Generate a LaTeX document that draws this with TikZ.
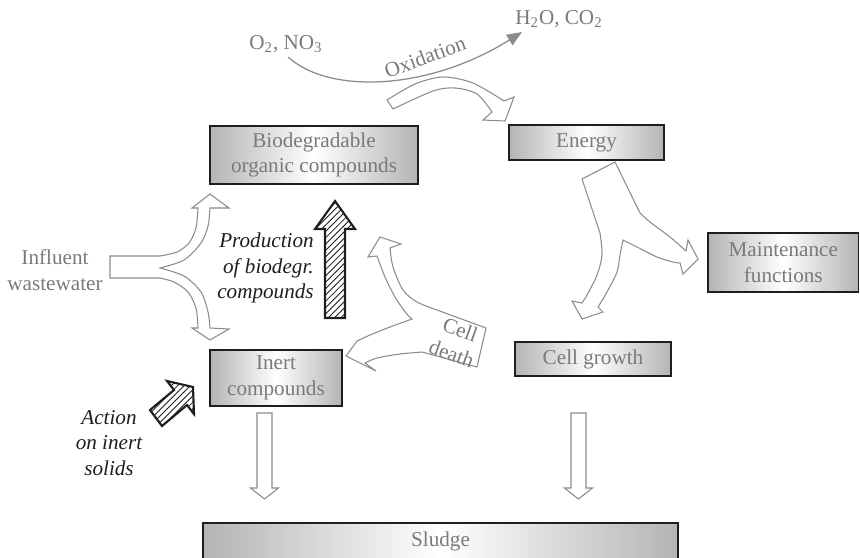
\documentclass[tikz,border=0pt]{standalone}
\usepackage{fontspec}
\setmainfont{Liberation Serif}
\usetikzlibrary{arrows.meta,patterns}
\definecolor{Ink}{HTML}{1E1E1E}
\definecolor{Muted}{HTML}{7A7A7A}
\definecolor{Rim}{HTML}{8C8C8C}
\definecolor{Shade}{HTML}{B4B4B4}
\tikzset{
  box/.style={draw=Ink,line width=0.8pt,left color=Shade,right color=Shade,middle color=white,text=Muted,align=center,inner sep=0pt},
  lbl/.style={text=Muted,align=center,inner sep=0pt},
  note/.style={text=Ink,font=\itshape,inner sep=0pt},
  hollow/.style={draw=Rim,fill=white,line width=0.5pt,line join=miter},
  hatched/.style={draw=Ink,line width=1pt,pattern=north east lines,pattern color=Ink,line join=miter},
  oxline/.style={draw=Rim,line width=0.6pt,-{Triangle[length=2.5mm,width=2mm]}}
}
\begin{document}
\begin{tikzpicture}[x=0.0166cm,y=-0.0166cm]
  \useasboundingbox (0,0) rectangle (860,557);
  % oxidation of the substrate
  \coordinate (oxA) at (288,57);
  \coordinate (oxB) at (522,32);
  \draw[oxline] (oxA) .. controls (330,95) and (430,90) .. (oxB);
  \draw[hollow] (393,109) -- (387,100)
    -- plot[smooth] coordinates {(387,100) (415,84) (443,77) (473,83) (504,101)}
    -- (514,97) -- (505,121) -- (483,120) -- (492,112)
    -- plot[smooth] coordinates {(492,112) (477,94) (455,88) (433,91) (393,109)} -- cycle;
  % influent split
  \draw[hollow] (110,278) -- (110,256) -- (160,256)
    -- plot[smooth] coordinates {(160,256) (177,252) (189,243) (196,228) (198,208)}
    -- (192,208) -- (210,194) -- (229,208) -- (210,208)
    -- plot[smooth] coordinates {(210,208) (208,226) (201,243) (184,260) (160,268)}
    -- plot[smooth] coordinates {(160,268) (184,276) (201,292) (208,312) (210,328)}
    -- (229,329) -- (210,340) -- (192,328) -- (198,328)
    -- plot[smooth] coordinates {(198,328) (196,308) (188,292) (174,282) (160,278)} -- cycle;
  % energy split
  \draw[hollow] (582,179) -- (615,162) -- (640,213)
    -- plot[smooth] coordinates {(640,213) (650,222) (670,237) (686,251)}
    -- (688,240) -- (698,259) -- (683,274) -- (680,263)
    -- plot[smooth] coordinates {(680,263) (673,262) (657,257) (637,247) (623,240)}
    -- plot[smooth] coordinates {(623,240) (620,255) (617,272) (607,292) (598,307)}
    -- (603,312) -- (582,319) -- (572,301) -- (582,303)
    -- plot[smooth] coordinates {(582,303) (587,295) (597,275) (602,255) (600,233)} -- cycle;
  % cell death
  \draw[hollow] (486,328) -- (477,367) -- (422,352)
    -- plot[smooth] coordinates {(422,352) (400,354) (377,358) (365,363)}
    -- (376,371) -- (346,356) -- (357,341)
    -- plot[smooth] coordinates {(357,341) (370,335) (390,327) (412,319)}
    -- plot[smooth] coordinates {(412,319) (406,313) (395,297) (385,277) (377,256)}
    -- (368,257) -- (380,237) -- (401,244) -- (390,248)
    -- plot[smooth] coordinates {(390,248) (393,267) (403,290) (417,302) (437,310)} -- cycle;
  % to sludge
  \foreach \cx in {264.5,578.5} {
    \draw[hollow] (\cx-7.5,413) -- (\cx+7.5,413) -- (\cx+7.5,488) -- (\cx+14,488)
      -- (\cx,499) -- (\cx-14,488) -- (\cx-7.5,488) -- cycle;
  }
  % actions
  \draw[hatched] (325,318) -- (325,229) -- (315,229) -- (335,201) -- (355,229) -- (345,229) -- (345,318) -- cycle;
  \draw[hatched] (162,426) -- (150,410) -- (174,390) -- (167,381) -- (193,387) -- (194,414) -- (187,405) -- cycle;

  \node[box,minimum width=3.45cm,minimum height=0.96cm] (bio) at (314,155) {Biodegradable\\organic compounds};
  \node[box,minimum width=2.57cm,minimum height=0.58cm] (energy) at (586.5,142.5) {Energy};
  \node[box,minimum width=2.5cm,minimum height=0.98cm] (maint) at (783.3,262.5) {Maintenance\\functions};
  \node[box,minimum width=2.59cm,minimum height=0.56cm] (growth) at (593,359) {Cell growth};
  \node[box,minimum width=2.19cm,minimum height=0.93cm] (inert) at (276,378) {Inert\\compounds};
  \node[box,minimum width=7.89cm,minimum height=0.72cm] (sludge) at (440.5,545) {\raisebox{6pt}{Sludge}};

  \node[lbl] (o2) at (286,44) {O\textsubscript{2}, NO\textsubscript{3}};
  \node[lbl] (h2o) at (559,19) {H\textsubscript{2}O, CO\textsubscript{2}};
  \node[lbl,rotate=20] (ox) at (425,57) {Oxidation};
  \node[lbl] (influent) at (55,270) {Influent\\wastewater};
  \node[lbl,rotate=-20] (death) at (456,342) {Cell\\death};
  \node[note,align=right] (prod) at (265.5,268) {Production\\of biodegr.\\compounds};
  \node[note,align=center] (action) at (109,443) {Action\\on inert\\solids};
\end{tikzpicture}
\end{document}
